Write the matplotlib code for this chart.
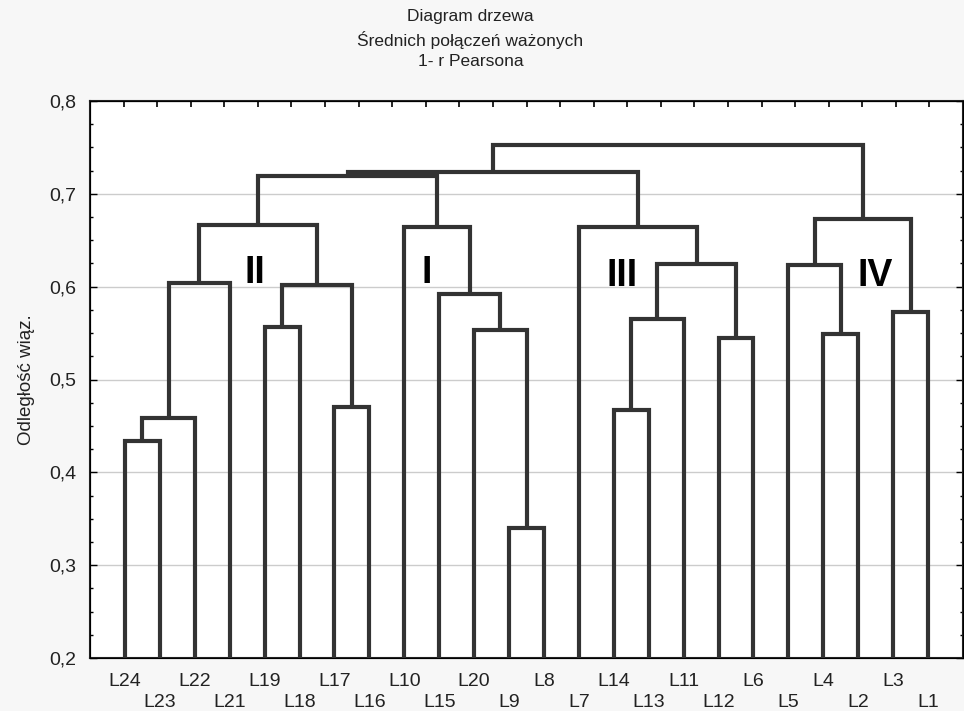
import matplotlib.pyplot as plt

# Leaf order along the x axis (left to right)
leaves = ["L24", "L23", "L22", "L21", "L19", "L18", "L17", "L16",
          "L10", "L15", "L20", "L9", "L8", "L7", "L14", "L13",
          "L11", "L12", "L6", "L5", "L4", "L2", "L3", "L1"]

# Merges: (left node, right node, linkage distance); new nodes are named c1, c2, ...
merge_left = ["L24", "c1", "c2", "L19", "L17", "c4", "c3", "L9", "L20", "L15",
              "L10", "c7", "L14", "c13", "L12", "c14", "L7", "c12", "L4", "L5",
              "L3", "c20", "c18"]
merge_right = ["L23", "L22", "L21", "L18", "L16", "c5", "c6", "L8", "c8", "c9",
               "c10", "c11", "L13", "L11", "L6", "c15", "c16", "c17", "L2", "c19",
               "L1", "c21", "c22"]
merge_dist = [0.434, 0.458, 0.604, 0.557, 0.470, 0.602, 0.666, 0.340, 0.553, 0.592,
              0.664, 0.719, 0.467, 0.565, 0.545, 0.624, 0.664, 0.724, 0.549, 0.623,
              0.573, 0.673, 0.753]

# Group labels
group_names = ["II", "I", "III", "IV"]
group_x = [4.72, 9.65, 15.23, 22.48]
group_y = [0.615, 0.615, 0.611, 0.611]

line_col = "#333333"

fig = plt.figure(figsize=(9.64, 7.11), dpi=100, facecolor="#f7f7f7")
ax = fig.add_axes([90 / 964, 1 - 658 / 711, 873 / 964, 557 / 711])
ax.set_facecolor("white")

# node positions: (x, height)
pos = {name: (i + 1, 0.0) for i, name in enumerate(leaves)}
for k, (a, b, d) in enumerate(zip(merge_left, merge_right, merge_dist)):
    xa, ha = pos[a]
    xb, hb = pos[b]
    ax.plot([xa, xa, xb, xb], [ha, d, d, hb], color=line_col, lw=3,
            solid_joinstyle="miter", solid_capstyle="butt", zorder=3)
    pos["c%d" % (k + 1)] = ((xa + xb) / 2, d)

for name, gx, gy in zip(group_names, group_x, group_y):
    ax.text(gx, gy, name, fontsize=27, fontweight="bold", family="Liberation Sans",
            ha="center", va="center", color="black", zorder=4)

ax.set_xlim(0, 25)
ax.set_ylim(0.2, 0.8)
ax.set_yticks([0.2, 0.3, 0.4, 0.5, 0.6, 0.7, 0.8])
ax.set_yticklabels(["0,2", "0,3", "0,4", "0,5", "0,6", "0,7", "0,8"],
                   family="Liberation Sans", fontsize=14, color="#222222")
ax.set_yticks([0.2 + 0.025 * i for i in range(25)], minor=True)
ax.grid(axis="y", which="major", color="#cccccc", lw=1, zorder=0)

ax.set_xticks(range(1, len(leaves) + 1))
ax.set_xticklabels([n if i % 2 == 0 else "\n" + n for i, n in enumerate(leaves)],
                   family="Liberation Sans", fontsize=14, color="#222222",
                   linespacing=1.3)
ax.tick_params(axis="x", length=0, pad=11)
ax.tick_params(axis="y", which="major", direction="in", length=5, width=1,
               left=True, right=True, pad=10)
ax.tick_params(axis="y", which="minor", direction="in", length=2.5, width=1,
               left=True, right=True)

for s in ax.spines.values():
    s.set_color("#222222")
    s.set_linewidth(1.5)

# top ticks (evenly spaced marks along the upper frame)
top = ax.twiny()
top.set_xlim(0, 26)
top.set_xticks(range(1, 26))
top.set_xticklabels([])
top.tick_params(axis="x", direction="in", length=4, width=1.2, top=True)

ax.set_ylabel("Odległość wiąz.", family="Liberation Sans", fontsize=13.5,
              color="#222222", labelpad=10)

fig.text(0.488, 1 - 17 / 711, "Diagram drzewa", ha="center", va="center",
         family="Liberation Sans", fontsize=12.5, color="#222222")
fig.text(0.488, 1 - 40 / 711, "Średnich połączeń ważonych", ha="center", va="center",
         family="Liberation Sans", fontsize=12.5, color="#222222")
fig.text(0.488, 1 - 62 / 711, "1- r Pearsona", ha="center", va="center",
         family="Liberation Sans", fontsize=12.5, color="#222222")

fig.savefig("out.png", dpi=100, facecolor=fig.get_facecolor())
